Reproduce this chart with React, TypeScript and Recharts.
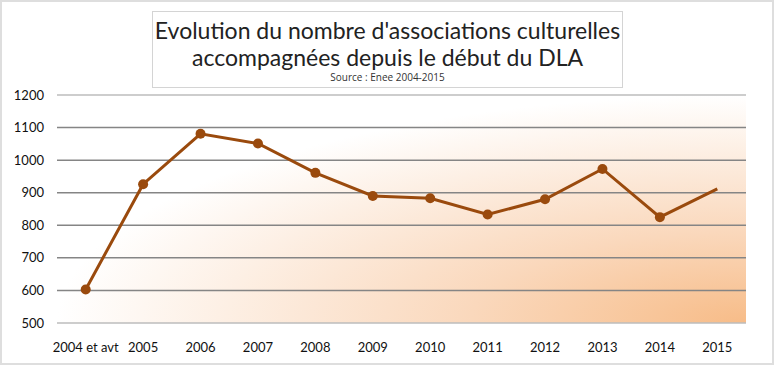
import React from "react";
import { LineChart, Line, XAxis, YAxis, CartesianGrid } from "recharts";

const categories = ["2004 et avt", "2005", "2006", "2007", "2008", "2009", "2010", "2011", "2012", "2013", "2014", "2015"];
const associations = [603, 926, 1081, 1051, 961, 890, 883, 833, 880, 973, 825, 912];
const yTicks = [500, 600, 700, 800, 900, 1000, 1100, 1200];

const data = categories.map((year, i) => ({ year, value: associations[i] }));

const FONT = "Lato, 'Open Sans', sans-serif";
const LINE_COLOR = "#9a4a0d";

// last point has no marker in the original
const renderDot = (props: any) => {
  const { cx, cy, index } = props;
  if (index === associations.length - 1) return <g key={`dot-${index}`} />;
  return <circle key={`dot-${index}`} cx={cx} cy={cy} r={5} fill={LINE_COLOR} stroke="none" />;
};

const renderGridLine = (props: any) => {
  const { x1, x2, y1, y2, index } = props;
  const edge = index === 0 || index === yTicks.length - 1;
  return (
    <line
      key={`h-${index}-${y1}`}
      x1={x1}
      x2={x2}
      y1={y1}
      y2={y2}
      stroke={edge ? "#bdbdbd" : "#858585"}
      strokeWidth={1.5}
    />
  );
};

export default function App() {
  return (
    <div
      style={{
        position: "absolute",
        left: 0,
        top: 0,
        width: 774,
        height: 365,
        boxSizing: "border-box",
        border: "2px solid #dedede",
        background: "#fff",
      }}
    >
      <div
        style={{
          position: "absolute",
          left: 150,
          top: 9,
          width: 471,
          height: 77,
          boxSizing: "border-box",
          border: "1px solid #d4d4d4",
          textAlign: "center",
          fontFamily: FONT,
          color: "#222",
          zIndex: 2,
          background: "#fff",
        }}
      >
        <div style={{ fontSize: 23, lineHeight: "27px", marginTop: 5 }}>
          Evolution du nombre d'associations culturelles
        </div>
        <div style={{ fontSize: 23, lineHeight: "27px" }}>accompagnées depuis le début du DLA</div>
        <div style={{ fontSize: 10, lineHeight: "12px", fontFamily: "'Open Sans', sans-serif", color: "#333" }}>
          Source : Enee 2004-2015
        </div>
      </div>
      <div style={{ position: "absolute", left: -2, top: -2 }}>
        <LineChart width={774} height={365} data={data} margin={{ top: 95, right: 28, bottom: 12, left: 0 }}>
          <defs>
            <radialGradient id="plotBg" cx="100%" cy="100%" r="100%" fx="100%" fy="100%">
              <stop offset="0%" stopColor="#f7bc88" />
              <stop offset="40%" stopColor="#fad8bc" />
              <stop offset="100%" stopColor="#ffffff" />
            </radialGradient>
          </defs>
          <CartesianGrid
            vertical={false}
            horizontal={renderGridLine}
            fill="url(#plotBg)"
            fillOpacity={1}
          />
          <XAxis
            dataKey="year"
            height={30}
            padding={{ left: 28.7, right: 28.7 }}
            axisLine={false}
            tickLine={false}
            tickMargin={14}
            tick={{ fontSize: 13, fill: "#111", fontFamily: FONT }}
            interval={0}
          />
          <YAxis
            width={57}
            domain={[500, 1200]}
            ticks={yTicks}
            axisLine={false}
            tickLine={false}
            tickMargin={7}
            tick={{ fontSize: 13, fill: "#111", fontFamily: FONT }}
          />
          <Line
            type="linear"
            dataKey="value"
            stroke={LINE_COLOR}
            strokeWidth={3}
            dot={renderDot}
            activeDot={false}
            isAnimationActive={false}
          />
        </LineChart>
      </div>
    </div>
  );
}
